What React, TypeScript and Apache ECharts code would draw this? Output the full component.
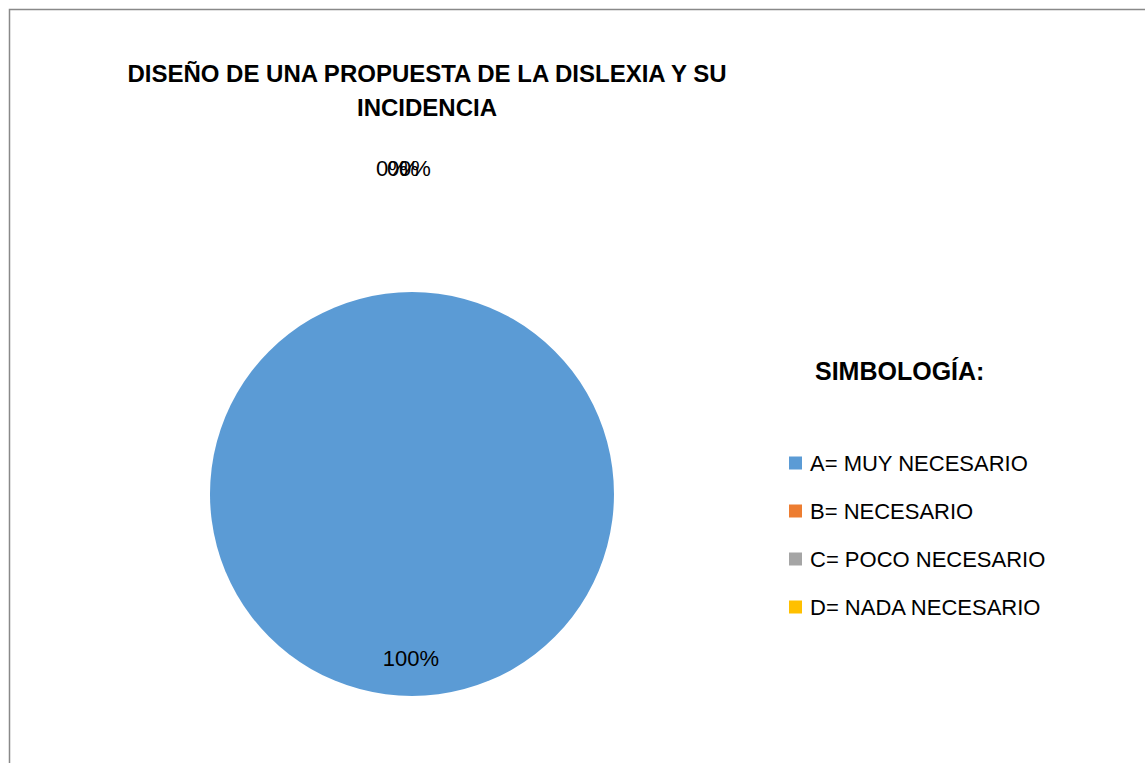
import React, { useEffect, useRef } from "react";
import * as echarts from "echarts";

const categories = ["A= MUY NECESARIO", "B= NECESARIO", "C= POCO NECESARIO", "D= NADA NECESARIO"];
const values = [100, 0, 0, 0];
const colors = ["#5B9BD5", "#ED7D31", "#A5A5A5", "#FFC000"];
const titleLines = ["DISEÑO DE UNA PROPUESTA DE LA DISLEXIA Y SU", "INCIDENCIA"];
const legendTitle = "SIMBOLOGÍA:";

const FONT = "'Liberation Sans', Arial, sans-serif";

export default function App() {
  const ref = useRef<HTMLDivElement>(null);
  useEffect(() => {
    if (!ref.current) return;
    const chart = echarts.init(ref.current, undefined, { renderer: "svg" });
    const zeroX = [392, 403, 415];
    chart.setOption({
      animation: false,
      backgroundColor: "#ffffff",
      title: [
        {
          text: titleLines.join("\n"),
          left: 427,
          top: 56,
          padding: 0,
          textAlign: "center",
          textStyle: { fontFamily: FONT, fontWeight: "bold", fontSize: 24, lineHeight: 34, color: "#000" },
        },
        {
          text: legendTitle,
          left: 815,
          top: 357,
          padding: 0,
          textStyle: { fontFamily: FONT, fontWeight: "bold", fontSize: 25, lineHeight: 28, color: "#000" },
        },
      ],
      legend: {
        orient: "vertical",
        left: 789,
        top: 452,
        padding: 0,
        icon: "rect",
        itemWidth: 13,
        itemHeight: 13,
        itemGap: 26,
        selectedMode: false,
        data: categories,
        textStyle: { fontFamily: FONT, fontSize: 22, color: "#000", lineHeight: 22, padding: [0, 0, 0, 3] },
      },
      graphic: [
        {
          type: "polyline",
          shape: { points: [[9.5, 770], [9.5, 9.5], [1160, 9.5]] },
          style: { stroke: "#898989", lineWidth: 1.5, fill: "none" },
          silent: true,
        },
      ],
      series: [
        {
          type: "pie",
          center: [412, 494],
          radius: [0, 202],
          startAngle: 90,
          clockwise: true,
          avoidLabelOverlap: false,
          stillShowZeroSum: true,
          itemStyle: { borderWidth: 0 },
          emphasis: { disabled: true },
          labelLine: { show: false },
          label: {
            show: true,
            position: "outside",
            formatter: "{d}%",
            fontFamily: FONT,
            fontSize: 22,
            color: "#000",
          },
          labelLayout: (p: any) => {
            if (p.dataIndex === 0) {
              return { x: 411, y: 658, align: "center", verticalAlign: "middle" };
            }
            return { x: zeroX[p.dataIndex - 1], y: 168, align: "center", verticalAlign: "middle" };
          },
          data: categories.map((c, i) => ({ name: c, value: values[i], itemStyle: { color: colors[i] } })),
        },
      ],
    });
    return () => chart.dispose();
  }, []);
  return <div ref={ref} style={{ position: "fixed", left: 0, top: 0, width: 1145, height: 763 }} />;
}
